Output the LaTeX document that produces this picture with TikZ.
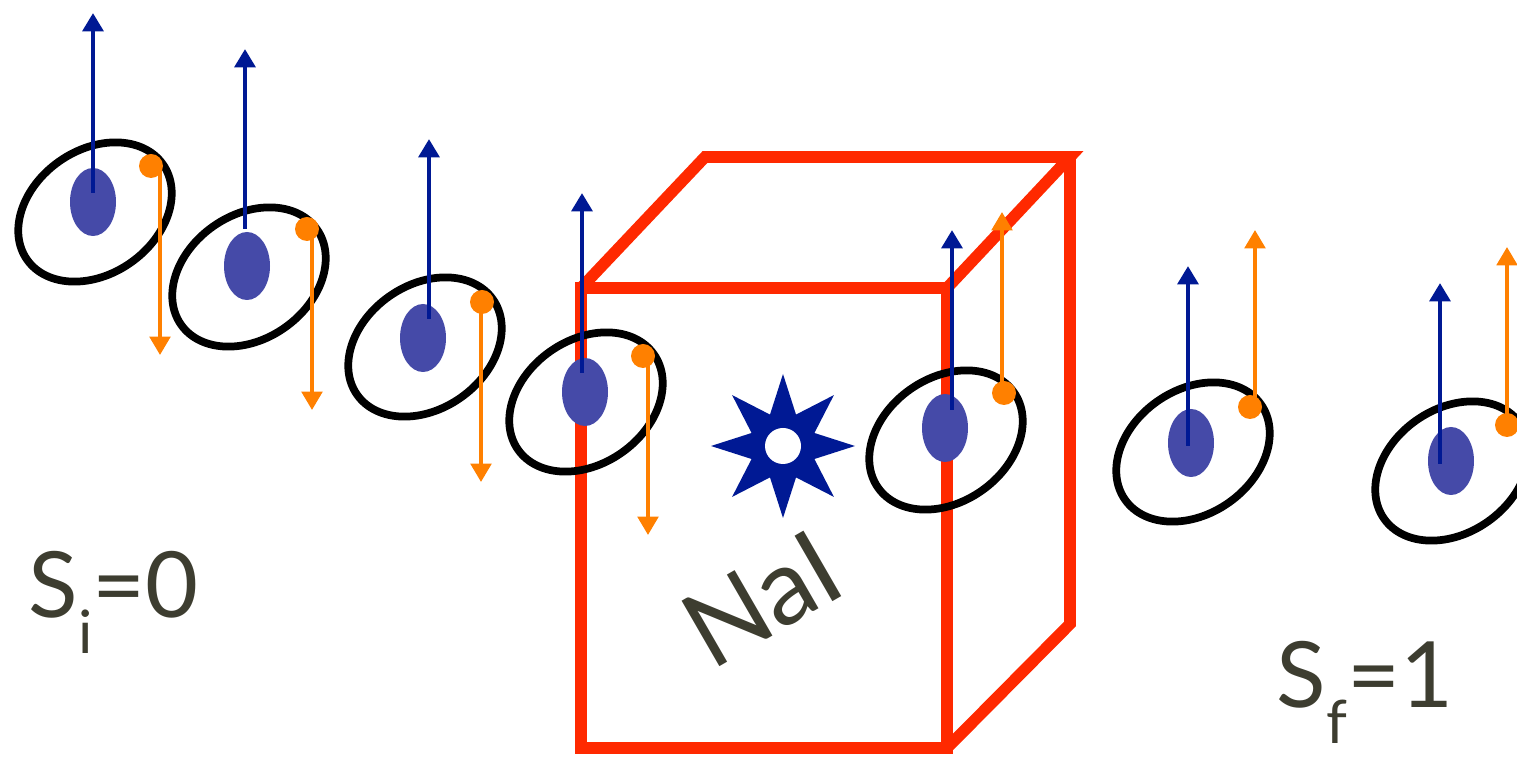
\documentclass[tikz,border=0pt]{standalone}
\usepackage{fontspec}
\setmainfont{Lato}
\usetikzlibrary{arrows.meta}
\definecolor{spinblue}{rgb}{0.,0.1,0.58}
\definecolor{nucblue}{rgb}{0.27,0.29,0.66}
\definecolor{elorange}{rgb}{1.,0.5,0.}
\definecolor{boxred}{rgb}{1.,0.16,0.}
\definecolor{labelgray}{rgb}{0.24,0.24,0.19}
\begin{document}
\begin{tikzpicture}[line join=miter,>={Triangle[width=5.8pt,length=5.2pt]},x=0.01cm,y=-0.01cm,
		orbit/.style={line width=2.2pt,black},
		nucleus/.style={fill=nucblue},
		nspin/.style={->,line width=1.4pt,spinblue},
		espin/.style={->,line width=1.1pt,elorange},
		crystal/.style={line width=3.3pt,boxred},
		spinlabel/.style={text=labelgray,inner sep=0pt,font=\fontsize{26}{30}\selectfont}]
			\useasboundingbox (0.,0.) rectangle (1517.,758.);
			\clip (0.,0.) rectangle (1517.,758.);
			% crystal, hidden edges left out
			\draw [crystal] (581.,288.) rectangle (947.,748.);
			\draw [crystal] (581.,288.)-- (705.,157.)-- (1070.,157.)-- (947.,288.);
			\draw [crystal] (1070.,157.)-- (1070.,624.)-- (947.,748.);
			% flash in the crystal
			\fill [spinblue] (783.,446.) +(90:72) \foreach \a in {0,45,...,315} { -- +(\a+112.5:34) -- +(\a+135:72) } -- cycle;
			\fill [white] (783.,446.) circle (18.);
			% atoms before the crystal: spins opposite
			\draw [orbit] (95.,212.) circle [x radius=83, y radius=62, rotate=35];
			\fill [nucleus] (93.,202.) ellipse (23. and 34.);
			\draw [nspin] (93.,193.)-- (93.,13.);
			\draw [espin] (160.,170.)-- (160.,355.);
			\fill [elorange] (151.,166.) circle (12.);
			\draw [orbit] (249.,277.) circle [x radius=83, y radius=62, rotate=35];
			\fill [nucleus] (247.,266.) ellipse (23. and 34.);
			\draw [nspin] (245.,229.)-- (245.,49.);
			\draw [espin] (312.,233.)-- (312.,410.);
			\fill [elorange] (307.,229.) circle (12.);
			\draw [orbit] (425.,347.) circle [x radius=83, y radius=62, rotate=35];
			\fill [nucleus] (423.,338.) ellipse (23. and 34.);
			\draw [nspin] (429.,319.)-- (429.,139.);
			\draw [espin] (481.,306.)-- (481.,482.);
			\fill [elorange] (482.,302.) circle (12.);
			\draw [orbit] (586.,402.) circle [x radius=83, y radius=62, rotate=35];
			\fill [nucleus] (585.,392.) ellipse (23. and 34.);
			\draw [nspin] (582.,373.)-- (582.,193.);
			\draw [espin] (648.,360.)-- (648.,535.);
			\fill [elorange] (643.,356.) circle (12.);
			% atoms after the crystal: spins parallel
			\draw [orbit] (946.,440.) circle [x radius=83, y radius=62, rotate=35];
			\fill [nucleus] (945.,428.) ellipse (23. and 34.);
			\draw [nspin] (952.,410.)-- (952.,230.);
			\draw [espin] (1002.,389.)-- (1002.,212.);
			\fill [elorange] (1004.,393.) circle (12.);
			\draw [orbit] (1193.,452.) circle [x radius=83, y radius=62, rotate=35];
			\fill [nucleus] (1191.,443.) ellipse (23. and 34.);
			\draw [nspin] (1188.,446.)-- (1188.,266.);
			\draw [espin] (1255.,403.)-- (1255.,230.);
			\fill [elorange] (1250.,407.) circle (12.);
			\draw [orbit] (1452.,471.) circle [x radius=83, y radius=62, rotate=35];
			\fill [nucleus] (1451.,461.) ellipse (23. and 34.);
			\draw [nspin] (1440.,464.)-- (1440.,283.);
			\draw [espin] (1507.,421.)-- (1507.,247.);
			\fill [elorange] (1507.,425.) circle (12.);
			% labels
			\node [spinlabel,anchor=base west] (si) at (28.,618.) {S\raisebox{-10pt}{\fontsize{17}{17}\selectfont i}=0};
			\node [spinlabel,anchor=base west] (sf) at (1276.,708.) {S\raisebox{-10pt}{\fontsize{17}{17}\selectfont f}=1};
			\node [spinlabel,rotate=30,font=\fontsize{30}{34}\selectfont] (nai) at (762.,599.) {NaI};
		\end{tikzpicture}
\end{document}
